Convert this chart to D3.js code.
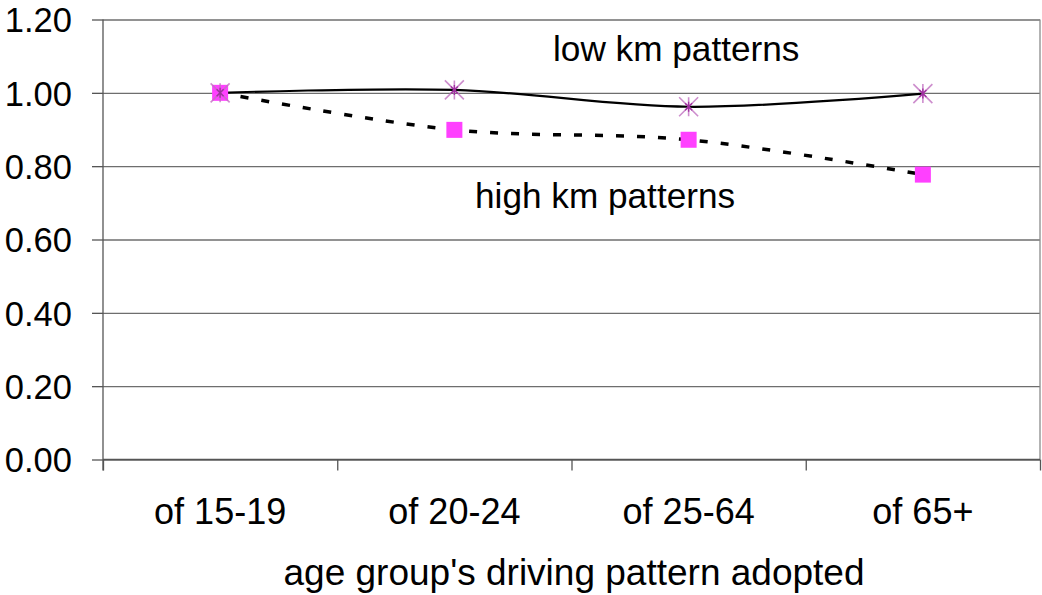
<!DOCTYPE html>
<html>
<head>
<meta charset="utf-8">
<script src="https://cdn.jsdelivr.net/npm/d3@7"></script>
<style>
  html, body { margin: 0; padding: 0; background: #fff; }
  svg { display: block; font-family: "Liberation Sans", Arial, sans-serif; }
</style>
</head>
<body>
<svg id="chart" width="1042" height="595"></svg>
<script>
// Relative ratios by age group whose driving pattern was adopted
const categories = ["of 15-19", "of 20-24", "of 25-64", "of 65+"];
const lowKm = [1.00, 1.008, 0.962, 0.998];
const highKm = [1.00, 0.899, 0.872, 0.777];
const yTicks = [0, 0.2, 0.4, 0.6, 0.8, 1.0, 1.2];
const xTitle = "age group's driving pattern adopted";
const lowLabel = "low km patterns";
const highLabel = "high km patterns";

const svg = d3.select("#chart");
const plotLeft = 103, plotRight = 1040, plotTop = 19.5, plotBottom = 459.5;

const x = d3.scaleBand().domain(categories).range([plotLeft, plotRight]).padding(0);
const xEdge = d3.scaleLinear().domain([0, categories.length]).range([plotLeft, plotRight]);
const y = d3.scaleLinear().domain([0, 1.2]).range([plotBottom, plotTop]);

// Horizontal gridlines
svg.append("g")
  .attr("transform", `translate(${plotLeft},0)`)
  .call(d3.axisLeft(y).tickValues(yTicks).tickSize(-(plotRight - plotLeft)).tickFormat(""))
  .call(g => g.select(".domain").remove())
  .call(g => g.selectAll("line").attr("stroke", "#6e6e6e").attr("stroke-width", 1.3));

// Right border of the plot area
svg.append("line")
  .attr("x1", plotRight).attr("x2", plotRight).attr("y1", plotTop).attr("y2", plotBottom)
  .attr("stroke", "#8a8a8a").attr("stroke-width", 1.3);

// Y axis
svg.append("g")
  .attr("transform", `translate(${plotLeft},0)`)
  .call(d3.axisLeft(y).tickValues(yTicks).tickSize(11).tickPadding(20).tickFormat(d => d.toFixed(2)))
  .call(g => g.select(".domain").attr("d", `M0,${plotTop}V${plotBottom + 11}`).attr("stroke", "#555").attr("stroke-width", 1.3))
  .call(g => g.selectAll("line").attr("stroke", "#555").attr("stroke-width", 1.3))
  .call(g => g.selectAll("text").attr("font-size", 34.5).attr("fill", "#000")
    .attr("font-family", "Liberation Sans, Arial, sans-serif").attr("dy", "0.36em"));

// X axis: boundary ticks
svg.append("g")
  .attr("transform", `translate(0,${plotBottom})`)
  .call(d3.axisBottom(xEdge).ticks(categories.length).tickSize(11).tickFormat(""))
  .call(g => g.select(".domain").attr("d", `M${plotLeft},0H${plotRight}`).attr("stroke", "#555").attr("stroke-width", 1.3))
  .call(g => g.selectAll("line").attr("stroke", "#555").attr("stroke-width", 1.3));

// X axis: category labels
svg.append("g")
  .attr("transform", `translate(0,${plotBottom})`)
  .call(d3.axisBottom(x).tickSize(0))
  .call(g => g.select(".domain").remove())
  .call(g => g.selectAll("text").attr("font-size", 36).attr("fill", "#000")
    .attr("font-family", "Liberation Sans, Arial, sans-serif")
    .attr("y", 64).attr("dy", null));

const cx = d => x(d) + x.bandwidth() / 2;
const line = d3.line().x((d, i) => cx(categories[i])).y(d => y(d)).curve(d3.curveCatmullRom.alpha(0.5));

// High km series: dashed smooth line
svg.append("path")
  .attr("d", line(highKm))
  .attr("fill", "none").attr("stroke", "#000").attr("stroke-width", 3.5)
  .attr("stroke-dasharray", "8,13");

// Low km series: solid smooth line
svg.append("path")
  .attr("d", line(lowKm))
  .attr("fill", "none").attr("stroke", "#000").attr("stroke-width", 2.2);

// Square markers
const sq = 16;
svg.append("g").selectAll("rect").data(highKm).join("rect")
  .attr("x", (d, i) => cx(categories[i]) - sq / 2)
  .attr("y", d => y(d) - sq / 2)
  .attr("width", sq).attr("height", sq)
  .attr("fill", "#ff40ff");

// Star markers
const r = 9.5;
const stars = svg.append("g").selectAll("g").data(lowKm).join("g")
  .attr("transform", (d, i) => `translate(${cx(categories[i])},${y(d)})`);
stars.append("path")
  .attr("d", `M0,${-r}V${r}M${-r},${-r}L${r},${r}M${-r},${r}L${r},${-r}`)
  .attr("stroke", "#c070c0").attr("stroke-opacity", 0.8).attr("stroke-width", 1.6).attr("fill", "none");
stars.append("path")
  .attr("d", `M0,-5V5M-3.5,-3.5L3.5,3.5M-3.5,3.5L3.5,-3.5`)
  .attr("stroke", "#a030a0").attr("stroke-width", 1.4).attr("fill", "none");

// Series labels
svg.append("text").attr("x", 553).attr("y", 61)
  .attr("font-size", 35.2).attr("fill", "#000").text(lowLabel);
svg.append("text").attr("x", 475).attr("y", 208)
  .attr("font-size", 35.2).attr("fill", "#000").text(highLabel);

// X axis title
svg.append("text").attr("x", 574).attr("y", 585).attr("text-anchor", "middle")
  .attr("font-size", 37).attr("fill", "#000").text(xTitle);
</script>
</body>
</html>
